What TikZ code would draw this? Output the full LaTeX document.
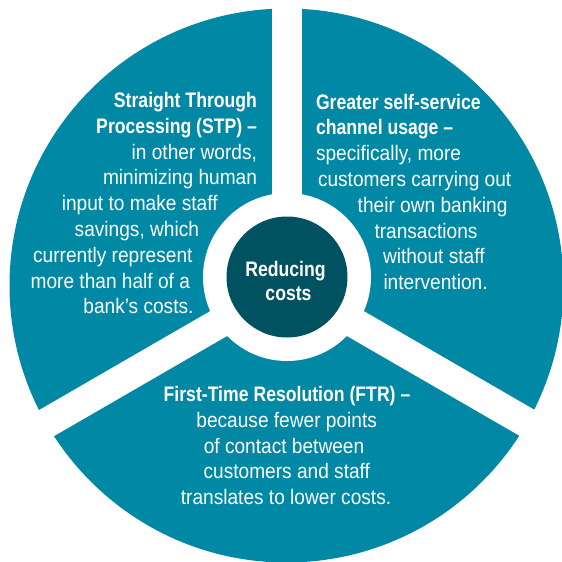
\documentclass[tikz,border=0pt]{standalone}
\usepackage{fontspec}
\newfontfamily\regf{Liberation Sans}[FakeStretch=0.91]
\newfontfamily\boldf{Liberation Sans}[FakeStretch=0.84]
\definecolor{tealc}{HTML}{0088A5}
\definecolor{darkc}{HTML}{005260}
\begin{document}
\begin{tikzpicture}[x=1pt,y=-1pt,
  lr/.style={text=white,inner sep=0pt,outer sep=0pt,font=\regf\fontsize{21}{25.8}\selectfont},
  lb/.style={text=white,inner sep=0pt,outer sep=0pt,font=\boldf\bfseries\fontsize{21}{25.8}\selectfont},
  gapline/.style={draw=white,line width=30pt}]
\useasboundingbox (0,0) rectangle (562,562);
\clip (0,0) rectangle (562,562);
\fill[white] (0,0) rectangle (562,562);
% outer disc
\coordinate (O) at (286.5,285.5);
\fill[tealc] (O) circle[radius=277pt];
% gaps between sectors
\coordinate (J) at (287,284);
\coordinate (gt) at (287,-30);
\coordinate (gl) at (-64,487);
\coordinate (gr) at (638,487);
\draw[gapline] (J) -- (gt);
\draw[gapline] (J) -- (gl);
\draw[gapline] (J) -- (gr);
% centre
\coordinate (C) at (287,277);
\fill[white] (C) circle[radius=84pt];
\node[circle,fill=darkc,minimum size=121pt,inner sep=0pt] (hub) at (C) {};
\node[lb,anchor=base] (hub1) at (285.5,276.7) {Reducing};
\node[lb,anchor=base] (hub2) at (288.5,300.7) {costs};
% STP sector
\node[lb,anchor=base east] (stp1) at (257,107.5) {Straight Through};
\node[lb,anchor=base east] (stp2) at (257,133.3) {Processing (STP) –};
\node[lr,anchor=base east] (stp3) at (257,159.1) {in other words,};
\node[lr,anchor=base east] (stp4) at (257,184.9) {minimizing human};
\node[lr,anchor=base east] (stp5) at (217.6,210.7) {input to make staff};
\node[lr,anchor=base east] (stp6) at (199,236.5) {savings, which};
\node[lr,anchor=base east] (stp7) at (192.5,262.3) {currently represent};
\node[lr,anchor=base east] (stp8) at (190,288.1) {more than half of a};
\node[lr,anchor=base east] (stp9) at (193.5,313.9) {bank’s costs.};
% self-service sector
\node[lb,anchor=base west] (gs1) at (316,109) {Greater self-service};
\node[lb,anchor=base west] (gs2) at (316,134.8) {channel usage –};
\node[lr,anchor=base west] (gs3) at (316,160.6) {specifically, more};
\node[lr,anchor=base west] (gs4) at (318,186.4) {customers carrying out};
\node[lr,anchor=base west] (gs5) at (357.7,212.2) {their own banking};
\node[lr,anchor=base west] (gs6) at (374.5,238) {transactions};
\node[lr,anchor=base west] (gs7) at (383,263.8) {without staff};
\node[lr,anchor=base west] (gs8) at (383.5,289.6) {intervention.};
% FTR sector
\node[lb,anchor=base] (ftr1) at (287,401.4) {First-Time Resolution (FTR) –};
\node[lr,anchor=base] (ftr2) at (286.7,427.2) {because fewer points};
\node[lr,anchor=base] (ftr3) at (284,453) {of contact between};
\node[lr,anchor=base] (ftr4) at (286.8,478.8) {customers and staff};
\node[lr,anchor=base] (ftr5) at (286,504.6) {translates to lower costs.};
\end{tikzpicture}
\end{document}
